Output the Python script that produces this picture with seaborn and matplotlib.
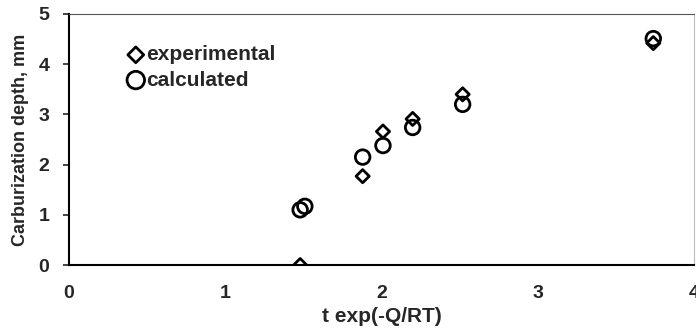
import matplotlib
matplotlib.use("Agg")
import matplotlib.pyplot as plt
import seaborn as sns
import pandas as pd

# values
exp_x = [1.48, 1.88, 2.01, 2.20, 2.52, 3.74]
exp_y = [0.00, 1.77, 2.66, 2.91, 3.40, 4.42]
calc_x = [1.48, 1.51, 1.88, 2.01, 2.20, 2.52, 3.74]
calc_y = [1.10, 1.17, 2.15, 2.38, 2.74, 3.20, 4.51]

df_exp = pd.DataFrame({"x": exp_x, "y": exp_y})
df_calc = pd.DataFrame({"x": calc_x, "y": calc_y})

sns.set_style("white")
plt.rcParams["font.family"] = ["Liberation Sans", "DejaVu Sans"]
plt.rcParams["font.weight"] = "bold"

fig = plt.figure(figsize=(6.96, 3.33), dpi=100)
ax = fig.add_axes([0.099, 0.204, 0.898, 0.754])

sns.scatterplot(data=df_exp, x="x", y="y", ax=ax, marker="D", s=45,
                facecolor="none", edgecolor="black", linewidth=2, label="experimental")
sns.scatterplot(data=df_calc, x="x", y="y", ax=ax, marker="o", s=110,
                facecolor="none", edgecolor="black", linewidth=2, label="calculated")

ax.set_xlim(0, 4)
ax.set_ylim(0, 5)
ax.set_xticks([0, 1, 2, 3, 4])
ax.set_yticks([0, 1, 2, 3, 4, 5])
ax.tick_params(axis="both", labelsize=14, length=4, width=1.2, direction="out", left=True, bottom=False)
ax.tick_params(axis="x", pad=10)
ax.tick_params(axis="y", pad=10)
for lab in ax.get_xticklabels() + ax.get_yticklabels():
    lab.set_fontweight("bold")

ax.set_xlabel("t exp(-Q/RT)", fontsize=15, fontweight="bold", labelpad=4)
ax.set_ylabel("Carburization depth, mm", fontsize=13, fontweight="bold", labelpad=7)

for side in ["left", "bottom"]:
    ax.spines[side].set_color("black")
    ax.spines[side].set_linewidth(1.5)
ax.spines["top"].set_color("#555555")
ax.spines["top"].set_linestyle((0, (6, 1)))
ax.spines["right"].set_color("#bbbbbb")

leg = ax.legend(loc="upper left", bbox_to_anchor=(0.062, 0.95), frameon=False,
                fontsize=15, handletextpad=0.05, labelspacing=0.3, handlelength=0.9,
                markerscale=1.2)
for t in leg.get_texts():
    t.set_fontweight("bold")

fig.savefig("out.png", dpi=100)
